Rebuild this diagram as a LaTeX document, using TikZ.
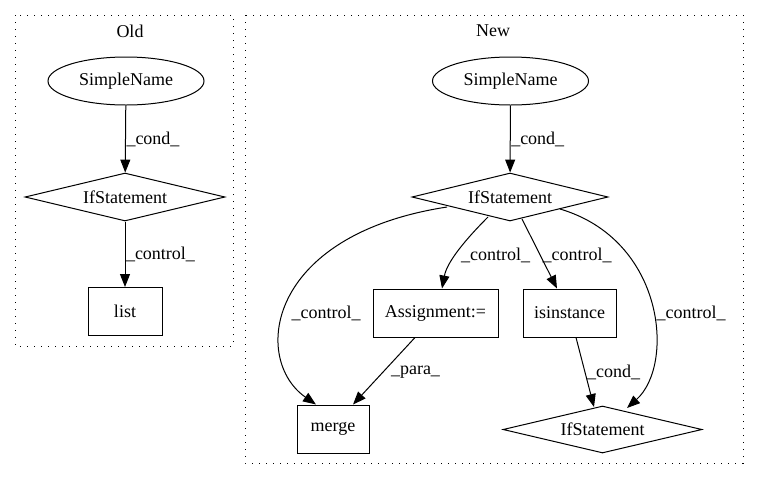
\documentclass[tikz,border=0pt]{standalone}
\usepackage{fontspec}
\setmainfont{Liberation Serif}
\usetikzlibrary{shapes.geometric,arrows.meta}
\begin{document}
\begin{tikzpicture}[x=1pt,y=-1pt,
  every node/.style={font=\fontsize{18}{20}\selectfont, inner sep=0pt},
  oval/.style={draw, ellipse, line width=1pt, minimum width=156pt, minimum height=48pt},
  cond/.style={draw, diamond, aspect=4.1, line width=1pt, minimum width=198pt, minimum height=48pt},
  box/.style={draw, rectangle, line width=1pt, minimum height=48pt},
  lbl/.style={},
  edge/.style={line width=1pt, -{Triangle[length=13pt,width=10pt]}},
  cluster/.style={line width=1pt, dash pattern=on 1.2pt off 5.8pt}]
\useasboundingbox (0,0) rectangle (760,480);
% clusters
\draw[cluster] (15,15) rectangle (233,346);
\draw[cluster] (245,15) rectangle (743,463);
\node (toldtitle) at (130,31) {Old};
\node (tnewtitle) at (493,31) {New};
% Old
\node[oval] (oldsn) at (126,81) {SimpleName};
\node[cond, minimum width=200pt] (oldif) at (125,197) {IfStatement};
\node[box, minimum width=74pt] (oldlist) at (125,311.5) {list};
\draw[edge] (oldsn) -- (oldif) node[pos=0.5, anchor=west, xshift=0.5pt] {\_cond\_};
\draw[edge] (oldif) -- (oldlist) node[pos=0.5, anchor=west, xshift=0.5pt] {\_control\_};
% New
\node[oval] (newsn) at (510.5,81) {SimpleName};
\node[cond, minimum width=196pt] (newif) at (510,197) {IfStatement};
\node[box, minimum width=125pt] (assign) at (435.5,313) {Assignment:=};
\node[box, minimum width=93pt] (isinst) at (569.5,313) {isinstance};
\node[box, minimum width=72pt] (merge) at (333,429) {merge};
\node[cond, minimum width=199pt, minimum height=47pt] (if2) at (602.5,429.5) {IfStatement};
\draw[edge] (newsn) -- (newif) node[pos=0.5, anchor=west, xshift=0.5pt] {\_cond\_};
\draw[edge] (447,207) .. controls (265,235) and (252,360) .. (merge.north west -| 316,0);
\node[lbl] (l1) at (326,313) {\_control\_};
\draw[edge] (488,217) .. controls (465,240) and (447,262) .. (assign.north -| 442,0);
\node[lbl] (l2) at (495.5,255) {\_control\_};
\draw[edge] (522,219) -- (isinst.north -| 557,0);
\node[lbl] (l3) at (577,255) {\_control\_};
\draw[edge] (560,209) .. controls (665,240) and (675,365) .. (627,408);
\node[lbl] (l4) at (691,313) {\_control\_};
\draw[edge] (assign.south -| 415,0) -- (merge.north -| 353,0);
\node[lbl] (l5) at (415.5,372) {\_para\_};
\draw[edge] (isinst.south -| 576,0) -- (594,407);
\node[lbl] (l6) at (613.5,372) {\_cond\_};
\end{tikzpicture}
\end{document}
